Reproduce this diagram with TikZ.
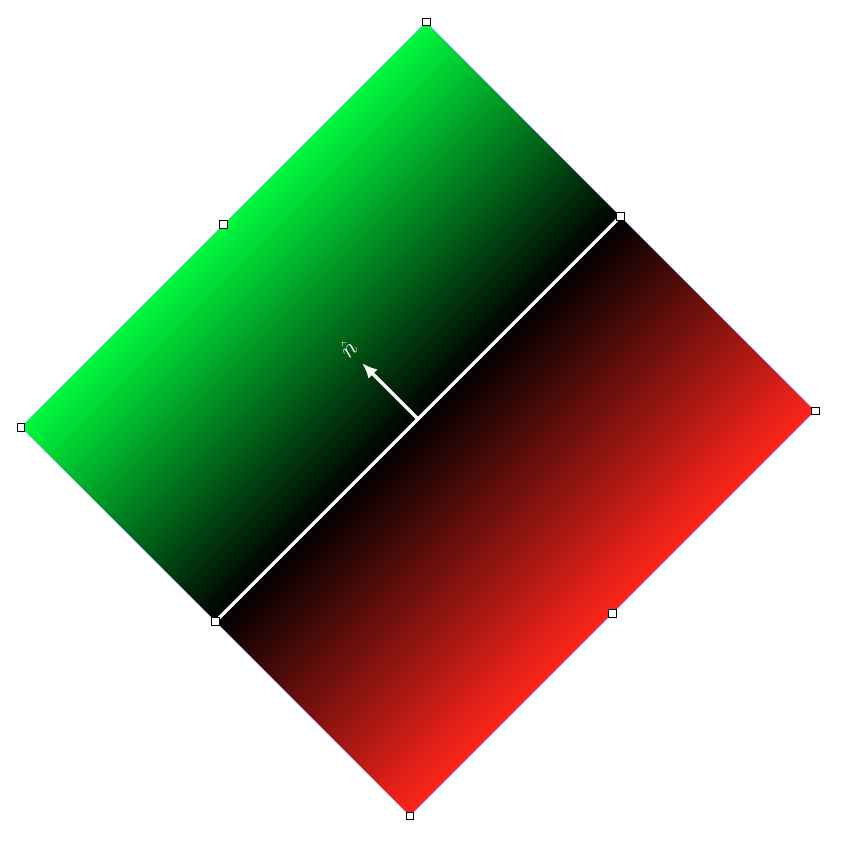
\documentclass[tikz,border=0pt]{standalone}
\usetikzlibrary{arrows.meta}
\definecolor{halfgreen}{RGB}{0,250,62}
\definecolor{halfred}{RGB}{255,36,28}
\tikzset{handle/.style={draw=black,fill=white,line width=0.6pt,minimum size=6.5pt,inner sep=0pt}}
\begin{document}
\begin{tikzpicture}[x=0.03cm,y=0.03cm]
  \useasboundingbox (0,0) rectangle (847,843);
  % the two shaded halves (canvas turned so the shading turns too)
  \begin{scope}[transform canvas={shift={(418,424)},rotate=45}]
    \shade[bottom color=black,top color=halfgreen] (-286.5,0) rectangle (286.5,275);
    \shade[top color=black,bottom color=halfred] (-286.5,-275) rectangle (286.5,0);
    \draw[blue!35!white,line width=0.3pt] (-286.5,-275) rectangle (286.5,275);
  \end{scope}
  \begin{scope}[shift={(418,424)},rotate=45]
    \coordinate (c) at (0,0);
    \coordinate (tip) at (0,79);
    \coordinate (top) at (286.5,275);
    \coordinate (right) at (286.5,-275);
    \coordinate (bottom) at (-286.5,-275);
    \coordinate (left) at (-286.5,275);
    \coordinate (ul) at (0,275);
    \coordinate (ur) at (286.5,0);
    \coordinate (lr) at (0,-275);
    \coordinate (ll) at (-286.5,0);
    \draw[white,line width=2.8pt] (ll) -- (ur);
    \draw[white,line width=2.8pt,-{Latex[length=13pt,width=11pt]}] (c) -- (tip);
    \node[white,rotate=45,font=\fontsize{22}{26}\selectfont] (nlab) at (0,99) {$\hat{n}$};
  \end{scope}
  \foreach \p in {top,right,bottom,left,ul,ur,lr,ll}
    \node[handle] (h-\p) at (\p) {};
\end{tikzpicture}
\end{document}
